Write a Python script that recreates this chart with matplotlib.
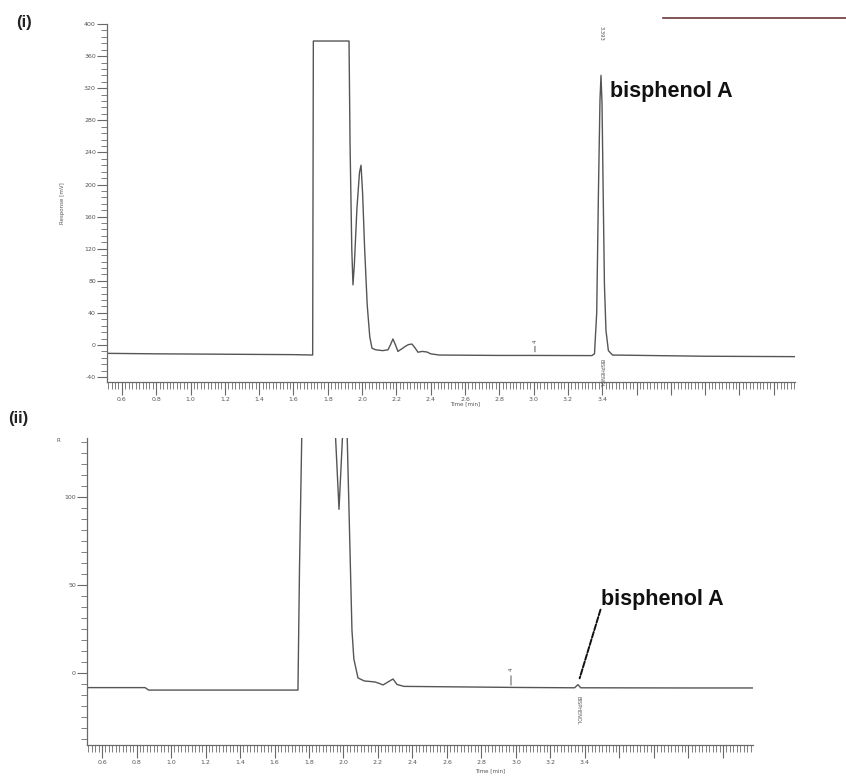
import matplotlib
matplotlib.use("Agg")
import matplotlib.pyplot as plt
from matplotlib.ticker import MultipleLocator, FuncFormatter
from matplotlib.lines import Line2D

# ---------------- data ----------------
# Panel (i): time [min] and response
t_top = [0.513, 0.80, 1.20, 1.60, 1.712, 1.716, 1.924, 1.930, 1.940, 1.947, 1.955,
         1.970, 1.985, 1.994, 2.003, 2.015, 2.030, 2.045, 2.058, 2.080, 2.120,
         2.151, 2.165, 2.180, 2.195, 2.209, 2.230, 2.250, 2.270, 2.291, 2.310,
         2.326, 2.350, 2.378, 2.400, 2.450, 2.800, 3.000, 3.340, 3.355, 3.368,
         3.378, 3.387, 3.393, 3.399, 3.406, 3.413, 3.422, 3.436, 3.460, 4.000, 4.524]
v_top = [-10.4, -11.0, -11.5, -12.0, -12.5, 378.8, 378.8, 250, 120, 75, 100,
         170, 215, 224, 190, 120, 50, 10, -4, -6, -7,
         -6, 0, 7.5, 0, -8, -5, -2, 0.5, 1.2, -4,
         -9, -8, -8.7, -11, -12.5, -13, -13, -13.2, -11, 40,
         190, 305, 336, 300, 185, 75, 18, -7, -12.5, -14, -14.5]

# Panel (ii)
t_bot = [0.513, 0.850, 0.870, 1.000, 1.500, 1.736, 1.745, 1.759, 1.800, 1.900,
         1.951, 1.974, 1.997, 2.005, 2.020, 2.049, 2.060, 2.084, 2.120, 2.183,
         2.210, 2.229, 2.260, 2.287, 2.310, 2.350, 3.000, 3.340, 3.359, 3.375,
         4.000, 4.374]
v_bot = [-8.3, -8.3, -9.7, -9.7, -9.7, -9.7, 60, 140, 300, 250,
         140, 93, 140, 200, 140, 24.4, 8, -2.8, -4.5, -5.1,
         -6.0, -6.8, -5.0, -3.4, -6.5, -7.6, -8.2, -8.4, -6.6, -8.4,
         -8.5, -8.5]

# event / peak times
event_top = 3.008
bpa_top = 3.393
event_bot = 2.971
bpa_bot = 3.359
peak_name = "bisphenol A"

# axis ranges / tick labels
xlim_top = (0.513, 4.524)
ylim_top = (-46.1, 400)
xlim_bot = (0.513, 4.374)
ylim_bot = (-40.9, 133.5)
y_major_top = 40
y_minor_top = 8
y_ticks_bot = [0, 50, 100]
y_minor_bot = 6.25
last_x_label = 3.4

# ---------------- figure ----------------
W, H = 846, 776
fig = plt.figure(figsize=(W / 100, H / 100), dpi=100)
fig.patch.set_facecolor("white")

def fx(px):
    return px / W

def fy(py):
    return 1 - py / H

trace_c = "#555555"
axis_c = "#6a6a6a"
bold_font = ["Liberation Sans", "DejaVu Sans"]

ax1 = fig.add_axes([fx(107), fy(382), fx(795 - 107), (382 - 24) / H])
ax2 = fig.add_axes([fx(87), fy(745), fx(753 - 87), (745 - 438) / H])

xfmt = FuncFormatter(lambda v, p: ("%.1f" % v) if v <= last_x_label + 0.05 else "")

for ax in (ax1, ax2):
    for s in ("top", "right"):
        ax.spines[s].set_visible(False)
    for s in ("left", "bottom"):
        ax.spines[s].set_color(axis_c)
        ax.spines[s].set_linewidth(0.9)
    ax.xaxis.set_major_locator(MultipleLocator(0.2))
    ax.xaxis.set_minor_locator(MultipleLocator(0.02))
    ax.xaxis.set_major_formatter(xfmt)
    ax.tick_params(axis="x", which="major", length=9, width=0.8, color=axis_c,
                   labelsize=4.5, labelcolor="#555555", pad=2)
    ax.tick_params(axis="x", which="minor", length=5, width=0.6, color=axis_c)
    ax.tick_params(axis="y", which="major", length=7, width=0.8, color=axis_c,
                   labelsize=4.5, labelcolor="#555555", pad=1)
    ax.tick_params(axis="y", which="minor", length=4, width=0.6, color=axis_c)
    ax.set_facecolor("white")

# panel (i)
ax1.plot(t_top, v_top, color=trace_c, lw=1.0, solid_joinstyle="round")
ax1.set_xlim(*xlim_top)
ax1.set_ylim(*ylim_top)
ax1.yaxis.set_major_locator(MultipleLocator(y_major_top))
ax1.yaxis.set_minor_locator(MultipleLocator(y_minor_top))
ax1.yaxis.set_major_formatter(FuncFormatter(lambda v, p: "%d" % round(v)))
ax1.set_ylabel("Response [mV]", fontsize=4, color="#555555", labelpad=14)
ax1.set_xlabel("Time [min]", fontsize=4, color="#555555", labelpad=-1)
ax1.xaxis.set_label_coords((465 - 107) / (795 - 107), -0.055)

ax1.annotate("", xy=(event_top, -12), xytext=(event_top, 2),
             arrowprops=dict(arrowstyle="-", color=trace_c, lw=0.7))
ax1.text(event_top, 3, "4", fontsize=4, color=trace_c, ha="center", va="bottom",
         rotation=90)
ax1.text(bpa_top, -18, "BISPHENOL", fontsize=3.6, color=trace_c, ha="center",
         va="top", rotation=270)
ax1.text(bpa_top, 398, "3.393", fontsize=3.8, color=trace_c, ha="center",
         va="top", rotation=270, clip_on=False)
ax1.text(3.445, 316, peak_name, fontsize=15.5, fontweight="bold",
         family=bold_font, color="#111111", ha="left", va="center")

# panel (ii)
ax2.plot(t_bot, v_bot, color=trace_c, lw=1.0, solid_joinstyle="round")
ax2.set_xlim(*xlim_bot)
ax2.set_ylim(*ylim_bot)
ax2.set_yticks(y_ticks_bot)
ax2.yaxis.set_minor_locator(MultipleLocator(y_minor_bot))
ax2.yaxis.set_major_formatter(FuncFormatter(lambda v, p: "%d" % round(v)))
ax2.set_xlabel("Time [min]", fontsize=4, color="#555555", labelpad=-1)
ax2.xaxis.set_label_coords((490 - 87) / (753 - 87), -0.075)

ax2.annotate("", xy=(event_bot, -8.5), xytext=(event_bot, 0),
             arrowprops=dict(arrowstyle="-", color=trace_c, lw=0.7))
ax2.text(event_bot, 1, "4", fontsize=4, color=trace_c, ha="center", va="bottom",
         rotation=90)
ax2.text(bpa_bot, -13, "BISPHENOL", fontsize=3.6, color=trace_c, ha="center",
         va="top", rotation=270)
ax2.annotate("", xy=(bpa_bot + 0.01, -3), xytext=(3.49, 36),
             arrowprops=dict(arrowstyle="-", color="#111111", lw=1.4,
                             linestyle=(0, (3, 1)), shrinkA=0, shrinkB=0))
ax2.text(3.49, 42, peak_name, fontsize=15.5, fontweight="bold",
         family=bold_font, color="#111111", ha="left", va="center")

# panel labels
fig.text(fx(24), fy(22), "(i)", fontsize=12, fontweight="bold",
         family=bold_font, color="#222222", ha="center", va="center")
fig.text(fx(18), fy(418), "(ii)", fontsize=12, fontweight="bold",
         family=bold_font, color="#222222", ha="center", va="center")
fig.text(fx(58), fy(440), "R", fontsize=4, color="#555555", ha="center",
         va="center")

# scan artefact line at top right
fig.add_artist(Line2D([fx(663), fx(846)], [fy(18), fy(18)], color="#6b3a3a",
                      lw=1.2))

fig.savefig("out.png", dpi=100, facecolor="white")
